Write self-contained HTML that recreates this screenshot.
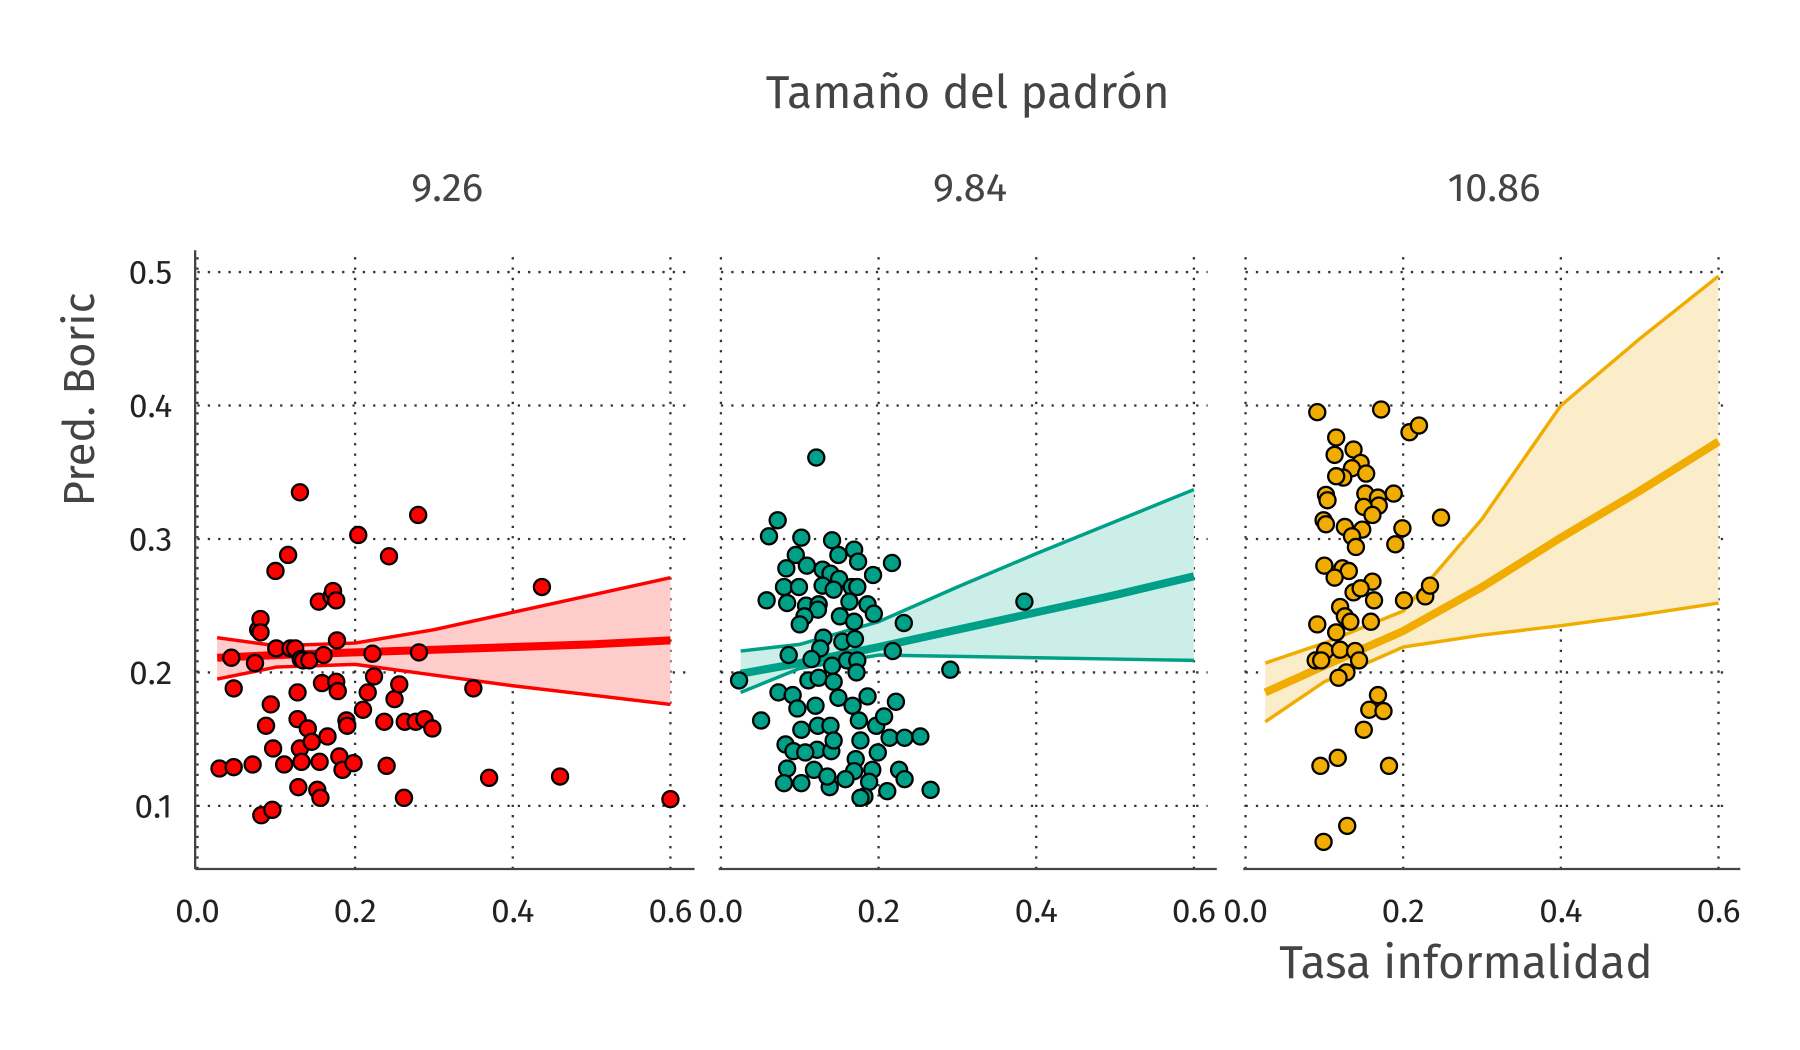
<!DOCTYPE html>
<html><head><meta charset="utf-8"><style>
html,body{margin:0;padding:0;background:#fff;}
svg{display:block;font-family:"Fira Sans","Liberation Sans",sans-serif;}
</style></head><body>
<svg id="chart" width="1800" height="1050" viewBox="0 0 1568 914.67" preserveAspectRatio="none" xmlns="http://www.w3.org/2000/svg">
<text x="843" y="94" text-anchor="middle" font-size="40" fill="#444">Tamaño del padrón</text>
<text transform="translate(82,348) rotate(-90)" text-anchor="middle" font-size="38" fill="#444">Pred. Boric</text>
<text x="1277" y="852" text-anchor="middle" font-size="40" fill="#444">Tasa informalidad</text>
<g id="plots"></g>
</svg>
<script>
const panelLabels = ["9.26","9.84","10.86"];
const panelColors = ["#ff0000","#00a088","#f0ac00"];
const bandColors = ["#ffcccc","#cceee8","#fbecca"];
const xTicks = [0,0.2,0.4,0.6];
const yTicks = [0.1,0.2,0.3,0.4,0.5];
const bandX = [0.025,0.1,0.2,0.3,0.4,0.5,0.6];
const fit1 = [0.211,0.213,0.215,0.217,0.219,0.221,0.224];
const up1 = [0.226,0.220,0.222,0.232,0.245,0.258,0.271];
const lo1 = [0.195,0.204,0.206,0.198,0.190,0.183,0.176];
const fit2 = [0.199,0.207,0.219,0.232,0.245,0.258,0.272];
const up2 = [0.216,0.221,0.238,0.264,0.289,0.313,0.337];
const lo2 = [0.185,0.203,0.213,0.212,0.211,0.210,0.209];
const fit3 = [0.185,0.205,0.231,0.264,0.301,0.336,0.373];
const up3 = [0.207,0.222,0.246,0.315,0.400,0.450,0.497];
const lo3 = [0.163,0.193,0.219,0.228,0.235,0.243,0.252];
const x1 = [0.028,0.046,0.07,0.043,0.046,0.073,0.077,0.08,0.081,0.095,0.093,0.087,0.096,0.099,0.11,0.115,0.10,0.118,0.124,0.13,0.127,0.127,0.13,0.128,0.132,0.131,0.134,0.142,0.14,0.145,0.152,0.156,0.154,0.155,0.158,0.16,0.165,0.17,0.172,0.176,0.178,0.176,0.177,0.18,0.184,0.189,0.19,0.198,0.204,0.21,0.216,0.222,0.224,0.237,0.24,0.243,0.25,0.256,0.262,0.263,0.277,0.28,0.281,0.288,0.298,0.35,0.37,0.437,0.46,0.6,0.08];
const y1 = [0.128,0.129,0.131,0.211,0.188,0.207,0.232,0.24,0.093,0.097,0.176,0.16,0.143,0.276,0.131,0.288,0.218,0.218,0.218,0.335,0.185,0.165,0.143,0.114,0.133,0.21,0.209,0.209,0.158,0.148,0.112,0.106,0.253,0.133,0.192,0.213,0.152,0.257,0.261,0.193,0.186,0.254,0.224,0.137,0.127,0.164,0.16,0.132,0.303,0.172,0.185,0.214,0.197,0.163,0.13,0.287,0.18,0.191,0.106,0.163,0.163,0.318,0.215,0.165,0.158,0.188,0.121,0.264,0.122,0.105,0.23];
const x2 = [0.121,0.072,0.061,0.102,0.141,0.169,0.095,0.149,0.174,0.083,0.109,0.129,0.139,0.150,0.193,0.217,0.080,0.099,0.129,0.143,0.166,0.173,0.058,0.084,0.108,0.124,0.163,0.186,0.194,0.123,0.106,0.100,0.151,0.169,0.232,0.130,0.154,0.170,0.126,0.086,0.218,0.115,0.141,0.160,0.173,0.172,0.023,0.111,0.124,0.143,0.291,0.073,0.091,0.097,0.120,0.149,0.186,0.222,0.051,0.102,0.123,0.139,0.167,0.175,0.197,0.207,0.082,0.122,0.140,0.143,0.177,0.214,0.233,0.253,0.199,0.084,0.118,0.171,0.169,0.192,0.226,0.080,0.102,0.138,0.158,0.188,0.233,0.211,0.266,0.182,0.177,0.135,0.092,0.107,0.385];
const y2 = [0.361,0.314,0.302,0.301,0.299,0.292,0.288,0.288,0.283,0.278,0.280,0.277,0.274,0.270,0.273,0.282,0.264,0.264,0.265,0.262,0.264,0.264,0.254,0.252,0.250,0.251,0.253,0.251,0.244,0.247,0.242,0.236,0.242,0.238,0.237,0.226,0.223,0.225,0.218,0.213,0.216,0.210,0.205,0.209,0.209,0.200,0.194,0.194,0.196,0.193,0.202,0.185,0.183,0.173,0.175,0.181,0.182,0.178,0.164,0.157,0.160,0.160,0.175,0.164,0.160,0.167,0.146,0.142,0.141,0.149,0.149,0.151,0.151,0.152,0.140,0.128,0.127,0.135,0.126,0.127,0.127,0.117,0.117,0.114,0.120,0.118,0.120,0.111,0.112,0.107,0.106,0.122,0.141,0.140,0.253];
const x3 = [0.091,0.172,0.208,0.220,0.115,0.113,0.137,0.146,0.135,0.153,0.124,0.115,0.102,0.104,0.152,0.168,0.188,0.169,0.150,0.161,0.099,0.102,0.126,0.148,0.135,0.140,0.199,0.190,0.248,0.100,0.123,0.131,0.113,0.161,0.137,0.146,0.163,0.201,0.228,0.234,0.120,0.126,0.133,0.159,0.091,0.115,0.101,0.120,0.139,0.089,0.096,0.144,0.128,0.118,0.168,0.157,0.175,0.150,0.095,0.117,0.182,0.129,0.099];
const y3 = [0.395,0.397,0.380,0.385,0.376,0.363,0.367,0.357,0.353,0.349,0.346,0.347,0.333,0.329,0.334,0.331,0.334,0.325,0.324,0.318,0.314,0.311,0.309,0.307,0.302,0.294,0.308,0.296,0.316,0.280,0.278,0.276,0.271,0.268,0.260,0.263,0.254,0.254,0.257,0.265,0.249,0.242,0.238,0.238,0.236,0.230,0.216,0.217,0.216,0.209,0.209,0.209,0.200,0.196,0.183,0.172,0.171,0.157,0.130,0.136,0.130,0.085,0.073];

const NS = "http://www.w3.org/2000/svg";
const g = document.getElementById("plots");
const panelX0 = [172,628,1085];
const axisL = [170,626,1083], axisR = [605,1060,1516];
const xPer = 686.7, yTop = 237, yPer01 = 116.25;
function sy(v){ return 702 - (v-0.1)*10*yPer01; }
const panels = [[x1,y1,fit1,up1,lo1],[x2,y2,fit2,up2,lo2],[x3,y3,fit3,up3,lo3]];
function mk(tag, attrs){ const e=document.createElementNS(NS,tag); for(const k in attrs) e.setAttribute(k,attrs[k]); g.appendChild(e); return e; }
panels.forEach((p,i)=>{
  const sx = v => panelX0[i] + v*xPer;
  // grid
  yTicks.forEach(t=>{
    const l = mk("line",{x1:axisL[i]+2,x2:axisR[i]-8,y1:sy(t),y2:sy(t),stroke:"#333","stroke-width":2,"stroke-dasharray":"2 7"});
    
    
  });
  xTicks.forEach(t=>{
    const l = mk("line",{x1:sx(t),x2:sx(t),y1:224,y2:757,stroke:"#333","stroke-width":2,"stroke-dasharray":"2 7"});
    
    
    const tx = mk("text",{x:sx(t),y:803,"text-anchor":"middle","font-size":29,fill:"#222"});
    tx.textContent = t.toFixed(1);
    
    
  });
  // band
  let d = bandX.map((x,k)=>(k?"L":"M")+sx(x)+","+sy(p[3][k])).join(" ");
  d += " " + bandX.slice().reverse().map((x,k)=>"L"+sx(x)+","+sy(p[4][bandX.length-1-k])).join(" ") + " Z";
  const band = mk("path",{d:d,fill:bandColors[i],stroke:"none"});
  
  
  [[p[3],3],[p[4],3],[p[2],7]].forEach(([arr,w],j)=>{
    const ln = mk("path",{d:bandX.map((x,k)=>(k?"L":"M")+sx(x)+","+sy(arr[k])).join(" "),fill:"none",stroke:panelColors[i],"stroke-width":w});
    
    
  });
  p[0].forEach((x,k)=>{
    const c = mk("circle",{cx:sx(x),cy:sy(p[1][k]),r:7,fill:panelColors[i],stroke:"#000","stroke-width":2});
    
    
  });
  const ax = mk("line",{x1:axisL[i],x2:axisR[i],y1:757,y2:757,stroke:"#444","stroke-width":2});
  
  
  const pt = mk("text",{x:(axisL[i]+axisR[i])/2+2,y:175,"text-anchor":"middle","font-size":35,fill:"#444"});
  pt.textContent = panelLabels[i];
  
  
});
const ya = mk("line",{x1:170,x2:170,y1:218,y2:757,stroke:"#444","stroke-width":2});


yTicks.forEach(t=>{
  const tx = mk("text",{x:150,y:sy(t)+10,"text-anchor":"end","font-size":29,fill:"#222"});
  tx.textContent = t.toFixed(1);
  
  
});
</script>
</body></html>
